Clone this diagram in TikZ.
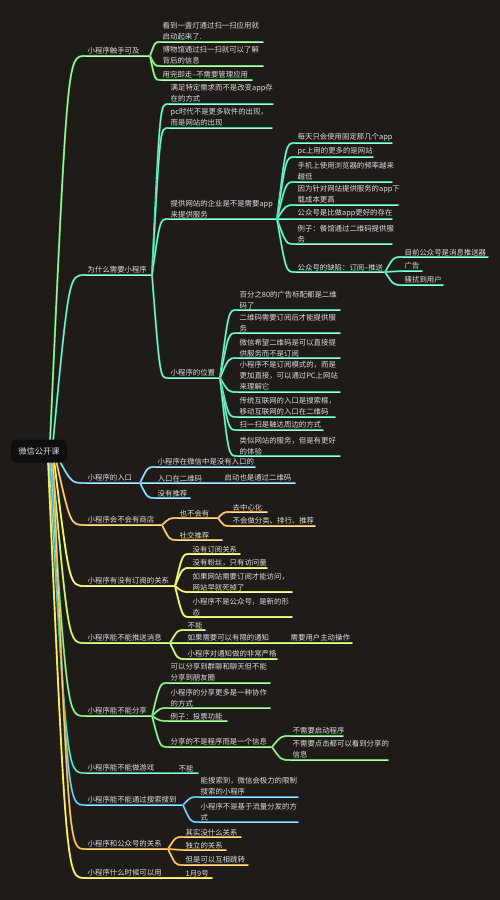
\documentclass[tikz,border=0pt]{standalone}
\usepackage{fontspec}
\setmainfont{Noto Sans CJK SC}
\usetikzlibrary{calc}
\definecolor{bgc}{HTML}{1F1B18}
\definecolor{txc}{HTML}{DCDCDC}
\definecolor{rootc}{HTML}{0E0E0E}
\definecolor{cA}{HTML}{62E066}
\definecolor{cB}{HTML}{2FD6A2}
\definecolor{cC}{HTML}{58B8E0}
\definecolor{cD}{HTML}{E8A838}
\definecolor{cE}{HTML}{E4E848}
\definecolor{cF}{HTML}{B0E43A}
\definecolor{cG}{HTML}{5CD55A}
\definecolor{cH}{HTML}{22C08A}
\definecolor{cI}{HTML}{2CA8E0}
\definecolor{cJ}{HTML}{E8A020}
\definecolor{cK}{HTML}{F0E020}
\tikzset{
  br/.style={draw=#1, line width=1.9pt, line cap=round,
    postaction={draw=#1!35!white, line width=0.6pt}},
  txt/.style={anchor=south west, inner xsep=2.5pt, inner ysep=1.2pt, align=left,
    text=txc, font=\fontsize{7.4}{11}\selectfont},
  rootbox/.style={fill=rootc, rounded corners=5pt, text=txc, minimum width=56pt,
    minimum height=23pt, font=\fontsize{8.2}{10}\selectfont}
}
\newcommand\mmtopic[6]{%
  \coordinate (#1s) at (#3,#5);
  \coordinate (#1e) at (#4,#5);
  \draw[br=#2] (#1s) -- (#1e);
  \node[txt] (#1) at (#1s) {#6};}
\newcommand\mmlink[3]{%
  \draw[br=#1] let \p1=(#2), \p2=(#3) in (\p1) .. controls ({0.5*\x1+0.5*\x2},\y2) .. (\p2);}
\begin{document}
\begin{tikzpicture}[x=1pt,y=-1pt]
\fill[bgc] (0,0) rectangle (500,900);
\useasboundingbox (0,0) rectangle (500,900);
% root attach points
\coordinate (rA) at (50,442);
\coordinate (rB) at (53,442);
\coordinate (rC) at (58,458);
\coordinate (rD) at (56,460);
\coordinate (rE) at (54,460);
\coordinate (rF) at (52,460);
\coordinate (rG) at (50,460);
\coordinate (rH) at (49,460);
\coordinate (rI) at (51,460);
\coordinate (rJ) at (53,460);
\coordinate (rK) at (48,460);
% ---------- A
\mmtopic{A}{cA}{85}{150}{56}{小程序触手可及}
\mmlink{cA}{rA}{As}
\mmtopic{A1}{cA}{160}{263}{42}{看到一盏灯通过扫一扫应用就\\启动起来了.}
\mmtopic{A2}{cA}{160}{263}{66}{博物馆通过扫一扫就可以了解\\背后的信息}
\mmtopic{A3}{cA}{160}{252}{80}{用完即走--不需要管理应用}
\mmlink{cA}{Ae}{A1s}
\mmlink{cA}{Ae}{A2s}
\mmlink{cA}{Ae}{A3s}
% ---------- B
\mmtopic{B}{cB}{85}{152}{275}{为什么需要小程序}
\mmlink{cB}{rB}{Bs}
\mmtopic{B1}{cB}{168}{273}{104}{满足特定需求而不是改变app存\\在的方式}
\mmtopic{B2}{cB}{168}{272}{128}{pc时代不是更多软件的出现，\\而是网站的出现}
\mmtopic{B3}{cB}{168}{277}{219}{提供网站的企业是不是需要app\\来提供服务}
\mmtopic{B4}{cB}{168}{220}{378}{小程序的位置}
\mmlink{cB}{Be}{B1s}
\mmlink{cB}{Be}{B2s}
\mmlink{cB}{Be}{B3s}
\mmlink{cB}{Be}{B4s}
\mmtopic{B31}{cB}{295}{392}{143}{每天只会使用固定那几个app}
\mmtopic{B32}{cB}{295}{373}{157}{pc上用的更多的是网站}
\mmtopic{B33}{cB}{295}{392}{182}{手机上使用浏览器的频率越来\\越低}
\mmtopic{B34}{cB}{295}{398}{205}{因为针对网站提供服务的app下\\载成本更高}
\mmtopic{B35}{cB}{295}{392}{219}{公众号是比做app更好的存在}
\mmtopic{B36}{cB}{295}{392}{244}{例子：餐馆通过二维码提供服\\务}
\mmtopic{B37}{cB}{295}{385}{272}{公众号的缺陷：订阅--推送}
\foreach \k in {1,...,7}{\mmlink{cB}{B3e}{B3\k s}}
\mmtopic{B371}{cB}{402}{488}{257}{目前公众号是消息推送器}
\mmtopic{B372}{cB}{402}{422}{271}{广告}
\mmtopic{B373}{cB}{402}{443}{285}{骚扰到用户}
\foreach \k in {1,2,3}{\mmlink{cB}{B37e}{B37\k s}}
\mmtopic{B41}{cB}{237}{340}{310}{百分之80的广告标配都是二维\\码了}
\mmtopic{B42}{cB}{237}{340}{333}{二维码需要订阅后才能提供服\\务}
\mmtopic{B43}{cB}{237}{340}{358}{微信希望二维码是可以直接提\\供服务而不是订阅}
\mmtopic{B44}{cB}{237}{340}{392}{小程序不是订阅模式的，而是\\更加直接，可以通过PC上网站\\来理解它}
\mmtopic{B45}{cB}{237}{335}{417}{传统互联网的入口是搜索框，\\移动互联网的入口在二维码}
\mmtopic{B46}{cB}{237}{323}{430}{扫一扫是触达周边的方式}
\mmtopic{B47}{cB}{237}{340}{456}{类似网站的服务，但是有更好\\的体验}
\foreach \k in {1,...,7}{\mmlink{cB}{B4e}{B4\k s}}
% ---------- C
\mmtopic{C}{cC}{85}{140}{483}{小程序的入口}
\mmlink{cC}{rC}{Cs}
\mmtopic{C1}{cC}{155}{255}{467}{小程序在微信中是没有入口的}
\mmtopic{C2}{cC}{155}{214}{483}{入口在二维码}
\mmtopic{C3}{cC}{155}{190}{498}{没有推荐}
\foreach \k in {1,2,3}{\mmlink{cC}{Ce}{C\k s}}
\mmtopic{C21}{cC}{222}{295}{483}{启动也是通过二维码}
\mmlink{cC}{C2e}{C21s}
% ---------- D
\mmtopic{D}{cD}{85}{162}{525}{小程序会不会有商店}
\mmlink{cD}{rD}{Ds}
\mmtopic{D1}{cD}{177}{218}{518}{也不会有}
\mmtopic{D2}{cD}{177}{222}{540}{社交推荐}
\foreach \k in {1,2}{\mmlink{cD}{De}{D\k s}}
\mmtopic{D11}{cD}{230}{267}{512}{去中心化}
\mmtopic{D12}{cD}{230}{315}{526}{不会做分类、排行、推荐}
\foreach \k in {1,2}{\mmlink{cD}{D1e}{D1\k s}}
% ---------- E
\mmtopic{E}{cE}{85}{175}{586}{小程序有没有订阅的关系}
\mmlink{cE}{rE}{Es}
\mmtopic{E1}{cE}{190}{240}{554}{没有订阅关系}
\mmtopic{E2}{cE}{190}{267}{568}{没有粉丝，只有访问量}
\mmtopic{E3}{cE}{190}{292}{592}{如果网站需要订阅才能访问，\\网站早就死掉了}
\mmtopic{E4}{cE}{190}{292}{617}{小程序不是公众号，是新的形\\态}
\foreach \k in {1,...,4}{\mmlink{cE}{Ee}{E\k s}}
% ---------- F
\mmtopic{F}{cF}{85}{170}{643}{小程序能不能推送消息}
\mmlink{cF}{rF}{Fs}
\mmtopic{F1}{cF}{185}{205}{630}{不能}
\mmtopic{F2}{cF}{185}{280}{643}{如果需要可以有限的通知}
\mmtopic{F3}{cF}{185}{277}{659}{小程序对通知做的非常严格}
\foreach \k in {1,2,3}{\mmlink{cF}{Fe}{F\k s}}
\mmtopic{F21}{cF}{288}{352}{643}{需要用户主动操作}
\mmlink{cF}{F2e}{F21s}
% ---------- G
\mmtopic{G}{cG}{85}{152}{716}{小程序能不能分享}
\mmlink{cG}{rG}{Gs}
\mmtopic{G1}{cG}{168}{270}{683}{可以分享到群聊和聊天但不能\\分享到朋友圈}
\mmtopic{G2}{cG}{168}{270}{708}{小程序的分享更多是一种协作\\的方式}
\mmtopic{G3}{cG}{168}{227}{721}{例子：投票功能}
\mmtopic{G4}{cG}{168}{272}{747}{分享的不是程序而是一个信息}
\foreach \k in {1,...,4}{\mmlink{cG}{Ge}{G\k s}}
\mmtopic{G41}{cG}{290}{343}{736}{不需要启动程序}
\mmtopic{G42}{cG}{290}{388}{760}{不需要点击都可以看到分享的\\信息}
\foreach \k in {1,2}{\mmlink{cG}{G4e}{G4\k s}}
% ---------- H
\mmtopic{H}{cH}{85}{172}{773}{小程序能不能做游戏}
\mmlink{cH}{rH}{Hs}
\mmtopic{H1}{cH}{176}{198}{773}{不能}
\mmlink{cH}{He}{H1s}
% ---------- I
\mmtopic{I}{cI}{85}{183}{805}{小程序能不能通过搜索搜到}
\mmlink{cI}{rI}{Is}
\mmtopic{I1}{cI}{198}{298}{797}{能搜索到，微信会极力的限制\\搜索的小程序}
\mmtopic{I2}{cI}{198}{298}{822}{小程序不是基于流量分发的方\\式}
\foreach \k in {1,2}{\mmlink{cI}{Ie}{I\k s}}
% ---------- J
\mmtopic{J}{cJ}{85}{168}{849}{小程序和公众号的关系}
\mmlink{cJ}{rJ}{Js}
\mmtopic{J1}{cJ}{183}{241}{837}{其实没什么关系}
\mmtopic{J2}{cJ}{183}{226}{850}{独立的关系}
\mmtopic{J3}{cJ}{183}{248}{865}{但是可以互相跳转}
\foreach \k in {1,2,3}{\mmlink{cJ}{Je}{J\k s}}
% ---------- K
\mmtopic{K}{cK}{85}{179}{878}{小程序什么时候可以用}
\mmlink{cK}{rK}{Ks}
\mmtopic{K1}{cK}{183}{212}{878}{1月9号}
\mmlink{cK}{Ke}{K1s}
% root
\node[rootbox] (root) at (39,451) {微信公开课};
\end{tikzpicture}
\end{document}
